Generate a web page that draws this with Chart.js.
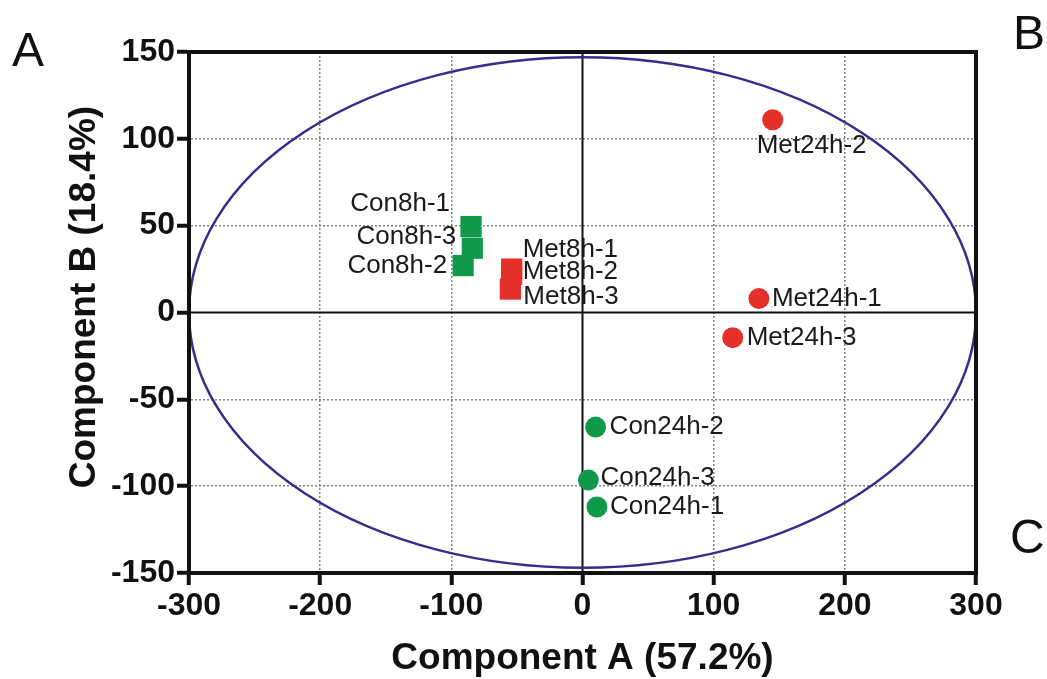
<!DOCTYPE html>
<html>
<head>
<meta charset="utf-8">
<script src="https://cdn.jsdelivr.net/npm/chart.js@4/dist/chart.umd.min.js"></script>
<style>
  html, body { margin: 0; padding: 0; background: #fff; }
  #wrap { position: relative; width: 1047px; height: 679px; }
  .panel { position: absolute; font-family: "Liberation Sans", Arial, sans-serif; font-size: 48px; color: #111; line-height: 1; }
</style>
</head>
<body>
<div id="wrap">
  <canvas id="myChart" width="1047" height="679"></canvas>
  <div class="panel" style="left:12px;top:26px;">A</div>
  <div class="panel" style="left:1013px;top:9px;">B</div>
  <div class="panel" style="left:1010px;top:513px;">C</div>
</div>
<script>
// sample scores
const sampleNames = ["Con8h-1", "Con8h-2", "Con8h-3", "Met8h-1", "Met8h-2", "Met8h-3",
  "Con24h-1", "Con24h-2", "Con24h-3", "Met24h-1", "Met24h-2", "Met24h-3"];
const groups = ["Con8h", "Con8h", "Con8h", "Met8h", "Met8h", "Met8h",
  "Con24h", "Con24h", "Con24h", "Met24h", "Met24h", "Met24h"];
const compA = [-85, -91, -84, -54, -54, -55, 11, 10, 4.5, 134.5, 145, 114.5];
const compB = [49.5, 27, 37, 25, 22, 13.5, -112, -66, -96.5, 8, 111, -14.5];

const xTicks = [-300, -200, -100, 0, 100, 200, 300];
const yTicks = [-150, -100, -50, 0, 50, 100, 150];

// 95% ellipse radii
const ellipseRx = 300;
const ellipseRy = 147;

// label placement (pixels from the mark)
const labelDx = [-21, -16, -16, 11, 11, 13, 13, 14, 12, 13, -16, 14];
const labelDy = [-23, 0, -11, -19, -2, 8, 0, 0, -2, 0, 26, 0];
const labelAlign = ["right", "right", "right", "left", "left", "left",
  "left", "left", "left", "left", "left", "left"];

const green = "#11994a";
const red = "#e5302a";

function groupData(name) {
  let out = [];
  for (let i = 0; i < sampleNames.length; i++) {
    if (groups[i] === name) out.push({ x: compA[i], y: compB[i], name: sampleNames[i], idx: i });
  }
  return out;
}

let datasets = [
  { label: "Con8h", data: groupData("Con8h"), pointStyle: "rect", pointRadius: 15, backgroundColor: green, borderColor: green, borderWidth: 0 },
  { label: "Met8h", data: groupData("Met8h"), pointStyle: "rect", pointRadius: 15, backgroundColor: red, borderColor: red, borderWidth: 0 },
  { label: "Con24h", data: groupData("Con24h"), pointStyle: "circle", pointRadius: 10.5, backgroundColor: green, borderColor: green, borderWidth: 0 },
  { label: "Met24h", data: groupData("Met24h"), pointStyle: "circle", pointRadius: 10.5, backgroundColor: red, borderColor: red, borderWidth: 0 },
];

const ellipsePlugin = {
  id: "ellipse",
  beforeDatasetsDraw(chart) {
    const ctx = chart.ctx;
    const xs = chart.scales.x, ys = chart.scales.y;
    const area = chart.chartArea;
    const cx = xs.getPixelForValue(0), cy = ys.getPixelForValue(0);
    ctx.save();
    // zero lines
    ctx.strokeStyle = "#111";
    ctx.lineWidth = 2;
    ctx.beginPath();
    ctx.moveTo(area.left, cy); ctx.lineTo(area.right, cy);
    ctx.moveTo(cx, area.top); ctx.lineTo(cx, area.bottom);
    ctx.stroke();
    // ellipse
    const rx = Math.abs(xs.getPixelForValue(ellipseRx) - cx);
    const ry = Math.abs(ys.getPixelForValue(ellipseRy) - cy);
    ctx.strokeStyle = "#3b2a8c";
    ctx.lineWidth = 2.5;
    ctx.beginPath();
    ctx.ellipse(cx, cy, rx, ry, 0, 0, Math.PI * 2);
    ctx.stroke();
    ctx.restore();
  },
  afterDatasetsDraw(chart) {
    const ctx = chart.ctx;
    ctx.save();
    ctx.font = "26px 'Liberation Sans', Arial, sans-serif";
    ctx.fillStyle = "#1a1a1a";
    ctx.textBaseline = "middle";
    chart.data.datasets.forEach((ds, d) => {
      const meta = chart.getDatasetMeta(d);
      meta.data.forEach((pt, j) => {
        const i = ds.data[j].idx;
        ctx.textAlign = labelAlign[i];
        ctx.fillText(ds.data[j].name, pt.x + labelDx[i], pt.y + labelDy[i]);
      });
    });
    // frame
    const a = chart.chartArea;
    ctx.strokeStyle = "#111";
    ctx.lineWidth = 4;
    ctx.strokeRect(a.left, a.top, a.right - a.left, a.bottom - a.top);
    ctx.restore();
  },
};

const tickFont = { family: "'Liberation Sans', Arial, sans-serif", size: 32, weight: "bold" };
const titleFont = { family: "'Liberation Sans', Arial, sans-serif", size: 37, weight: "bold", lineHeight: 1.0 };

function gridColor(c) {
  return c.tick && c.tick.value === 0 ? "rgba(0,0,0,0)" : "#808080";
}

let ctx = document.getElementById("myChart").getContext("2d");
let myChart = new Chart(ctx, {
  type: "scatter",
  data: { datasets: datasets },
  options: {
    responsive: false,
    animation: false,
    layout: { padding: { left: 0, right: 71, top: 52, bottom: 0 } },
    plugins: { legend: { display: false }, tooltip: { enabled: false } },
    scales: {
      x: {
        type: "linear",
        min: -300,
        max: 300,
        afterBuildTicks: (s) => { s.ticks = xTicks.map((v) => ({ value: v })); },
        afterFit: (s) => { s.height = 106; },
        ticks: { font: tickFont, color: "#111", padding: 2, maxRotation: 0 },
        grid: { color: gridColor, lineWidth: 1.5, tickColor: "#111", tickLength: 12, tickWidth: 4 },
        border: { display: true, color: "#111", width: 4, dash: [2, 2] },
        title: { display: true, text: "Component A (57.2%)", font: titleFont, color: "#111", padding: { top: 0, bottom: 2 } },
      },
      y: {
        type: "linear",
        min: -150,
        max: 150,
        afterBuildTicks: (s) => { s.ticks = yTicks.map((v) => ({ value: v })); },
        afterFit: (s) => { s.width = 189; },
        ticks: { font: tickFont, color: "#111", padding: 2 },
        grid: { color: gridColor, lineWidth: 1.5, tickColor: "#111", tickLength: 12, tickWidth: 4 },
        border: { display: true, color: "#111", width: 4, dash: [2, 2] },
        title: { display: true, text: "   Component B (18.4%)", font: titleFont, color: "#111", padding: { top: 66, bottom: 0 } },
      },
    },
  },
  plugins: [ellipsePlugin],
});
</script>
</body>
</html>
